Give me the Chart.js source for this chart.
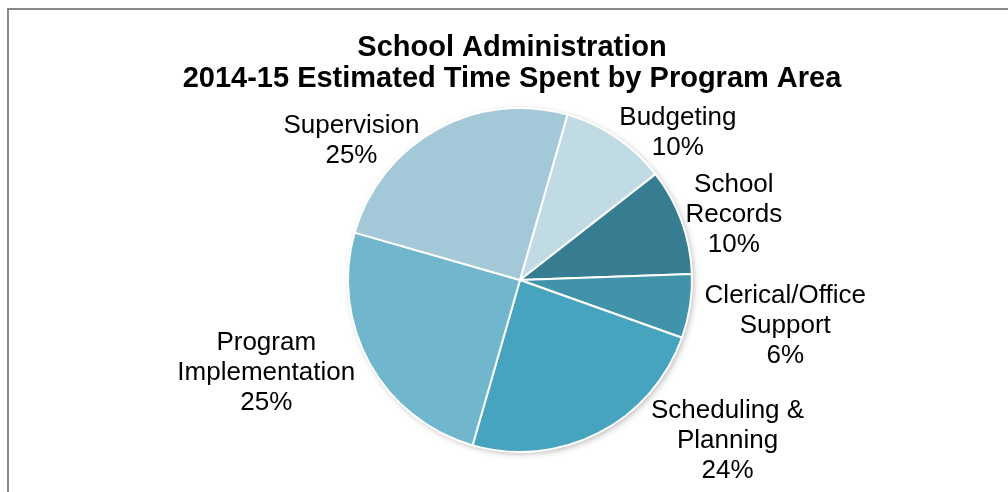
<!DOCTYPE html>
<html>
<head>
<meta charset="utf-8">
<script src="https://cdn.jsdelivr.net/npm/chart.js@4.4.0/dist/chart.umd.min.js"></script>
<style>
  html, body { margin: 0; padding: 0; background: #fff; }
  #wrap { position: relative; width: 1008px; height: 492px; }
  #frame { position: absolute; left: 7px; top: 8px; right: 0; bottom: 0;
           border-left: 2px solid #8a8a8a; border-top: 2px solid #8a8a8a; }
  canvas { position: absolute; left: 0; top: 0; }
</style>
</head>
<body>
<div id="wrap">
  <div id="frame"></div>
  <canvas id="adminChart" width="1008" height="492"></canvas>
</div>
<script>
var titleLines = ['School Administration', '2014-15 Estimated Time Spent by Program Area'];
var areas = [['Budgeting'], ['School', 'Records'], ['Clerical/Office', 'Support'],
             ['Scheduling &', 'Planning'], ['Program', 'Implementation'], ['Supervision']];
var percents = [10, 10, 6, 24, 25, 25];
var sliceColors = ['#c1dbe4', '#367d91', '#4193aa', '#47a4be', '#70b6cc', '#a3c9d8'];

// label placement: angle shift (deg) from slice middle, distance as a multiple of the radius
var labelShift = [13, 3, 1, -25, 9, -21.5];
var labelDist = [1.255, 1.30, 1.565, 1.527, 1.57, 1.27];

var sliceLabels = {
    id: 'sliceLabels',
    beforeDatasetsDraw: function(chart) {
        // soft shadow under the whole pie
        var arc = chart.getDatasetMeta(0).data[0];
        var c = chart.ctx;
        c.save();
        c.shadowColor = 'rgba(0,0,0,0.35)';
        c.shadowBlur = 7;
        c.shadowOffsetX = 2;
        c.shadowOffsetY = 2;
        c.fillStyle = '#fff';
        c.beginPath();
        c.arc(arc.x, arc.y, arc.outerRadius - 1, 0, Math.PI * 2);
        c.fill();
        c.restore();
    },
    afterDraw: function(chart) {
        var c = chart.ctx;
        c.save();
        c.fillStyle = '#000';
        c.textAlign = 'center';
        c.textBaseline = 'alphabetic';
        c.font = 'bold 29px "Liberation Sans", Arial, sans-serif';
        c.fillText(titleLines[0], 512, 56);
        c.fillText(titleLines[1], 512, 87);

        c.font = '26px "Liberation Sans", Arial, sans-serif';
        c.textBaseline = 'middle';
        chart.getDatasetMeta(0).data.forEach(function(arc, i) {
            var mid = (arc.startAngle + arc.endAngle) / 2 + labelShift[i] * Math.PI / 180;
            var r = arc.outerRadius * labelDist[i];
            var x = arc.x + Math.cos(mid) * r;
            var y = arc.y + Math.sin(mid) * r;
            var lines = areas[i].concat([percents[i] + '%']);
            var top = y - (lines.length - 1) * 15;
            lines.forEach(function(t, k) {
                c.fillText(t, x, top + k * 30);
            });
        });
        c.restore();
    }
};

var ctx = document.getElementById('adminChart').getContext('2d');
var adminChart = new Chart(ctx, {
    type: 'pie',
    data: {
        labels: areas.map(function(a) { return a.join(' '); }),
        datasets: [{
            data: percents,
            backgroundColor: sliceColors,
            borderColor: '#ffffff',
            borderWidth: 2,
            hoverOffset: 0
        }]
    },
    options: {
        responsive: false,
        animation: false,
        rotation: 16,
        layout: {
            padding: { top: 107, bottom: 39, left: 347, right: 315 }
        },
        plugins: {
            legend: { display: false },
            title: { display: false },
            tooltip: { enabled: false }
        }
    },
    plugins: [sliceLabels]
});
</script>
</body>
</html>
